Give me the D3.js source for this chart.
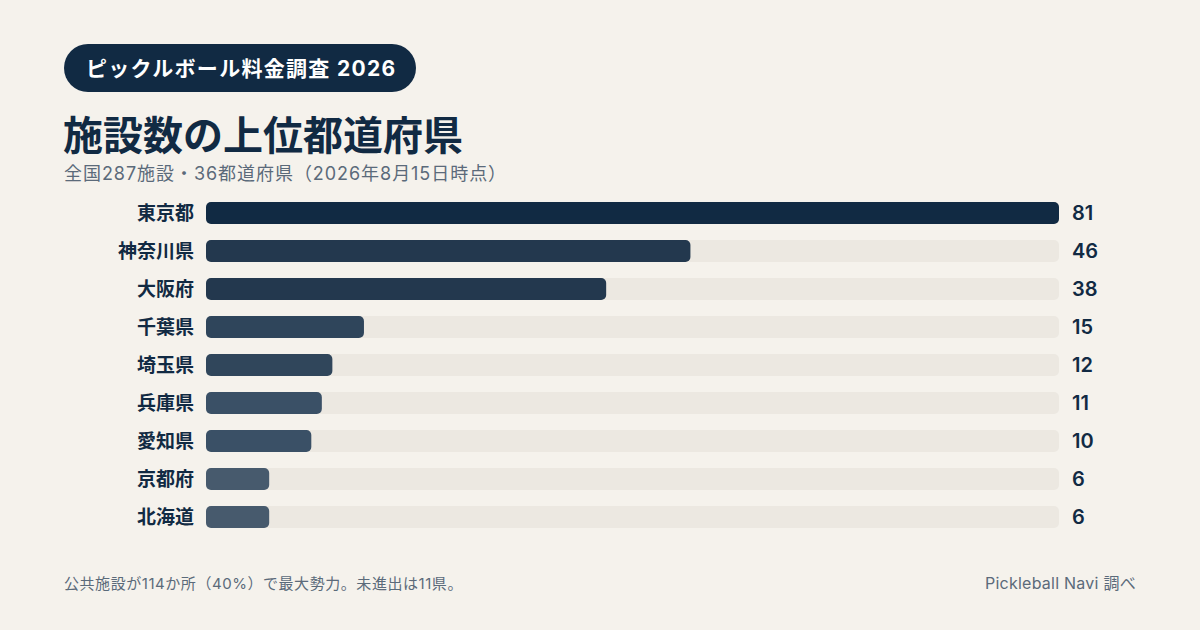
<!DOCTYPE html>
<html>
<head>
<meta charset="utf-8">
<script src="https://cdn.jsdelivr.net/npm/d3@7"></script>
<style>
  html, body { margin: 0; padding: 0; background: #f5f2ec; }
  svg { display: block; font-family: "Inter", "Noto Sans CJK JP", sans-serif; }
</style>
</head>
<body>
<svg id="chart" width="1200" height="630"></svg>
<script>
// data
var prefectures = ["東京都", "神奈川県", "大阪府", "千葉県", "埼玉県", "兵庫県", "愛知県", "京都府", "北海道"];
var facilityCounts = [81, 46, 38, 15, 12, 11, 10, 6, 6];
var badgeText = "ピックルボール料金調査 2026";
var titleText = "施設数の上位都道府県";
var subtitleText = "全国287施設・36都道府県（2026年8月15日時点）";
var noteText = "公共施設が114か所（40%）で最大勢力。未進出は11県。";
var sourceText = "Pickleball Navi 調べ";

// bar colours get lighter down the ranking
var palette = ["#112a43", "#23384e", "#23384e", "#2f455b", "#30465b", "#3a5066", "#3a5066", "#475a6d", "#475a6d"];

var svg = d3.select("#chart");

svg.append("rect").attr("width", 1200).attr("height", 630).attr("fill", "#f5f2ec");

/* badge */
svg.append("rect")
    .attr("x", 64).attr("y", 44).attr("width", 352).attr("height", 48)
    .attr("rx", 24).attr("fill", "#112a43");
svg.append("text")
    .attr("x", 86).attr("y", 76)
    .style("font-size", "21px").style("font-weight", 700)
    .style("letter-spacing", "1.3px")
    .attr("fill", "#ffffff")
    .text(badgeText);

/* title + subtitle */
svg.append("text")
    .attr("x", 63).attr("y", 150)
    .style("font-size", "40px").style("font-weight", 700)
    .attr("fill", "#112a43")
    .text(titleText);
svg.append("text")
    .attr("x", 64).attr("y", 180)
    .style("font-size", "18px")
    .style("letter-spacing", "0.95px")
    .attr("fill", "#5b6a7a")
    .text(subtitleText);

/* bars */
var x = d3.scaleLinear().domain([0, d3.max(facilityCounts)]).range([206, 1059]);
var y = d3.scaleBand().domain(prefectures).range([194, 536]).paddingInner(0.42).paddingOuter(0.21);

var rows = svg.append("g").selectAll("g")
    .data(prefectures)
    .enter().append("g")
    .attr("transform", function(d) { return "translate(0," + y(d) + ")"; });

rows.append("rect")
    .attr("x", x(0)).attr("width", x.range()[1] - x(0))
    .attr("height", y.bandwidth()).attr("rx", 5)
    .attr("fill", "#ece8e1");

rows.append("rect")
    .attr("x", x(0))
    .attr("width", function(d, i) { return x(facilityCounts[i]) - x(0); })
    .attr("height", y.bandwidth()).attr("rx", 5)
    .attr("fill", function(d, i) { return palette[i]; });

rows.append("text")
    .attr("x", 194).attr("y", y.bandwidth() / 2)
    .attr("dy", "0.36em")
    .attr("text-anchor", "end")
    .style("font-size", "19px").style("font-weight", 700)
    .attr("fill", "#112a43")
    .text(function(d) { return d; });

rows.append("text")
    .attr("x", 1072).attr("y", y.bandwidth() / 2)
    .attr("dy", "0.36em")
    .style("font-size", "20px").style("font-weight", 600)
    .attr("fill", "#112a43")
    .text(function(d, i) { return facilityCounts[i]; });

/* footer */
svg.append("text")
    .attr("x", 64).attr("y", 589)
    .style("font-size", "15px")
    .style("letter-spacing", "0.55px")
    .attr("fill", "#5b6a7a")
    .text(noteText);
svg.append("text")
    .attr("x", 1136).attr("y", 589)
    .attr("text-anchor", "end")
    .style("font-size", "16px")
    .style("letter-spacing", "0.25px")
    .attr("fill", "#5b6a7a")
    .text(sourceText);
</script>
</body>
</html>
